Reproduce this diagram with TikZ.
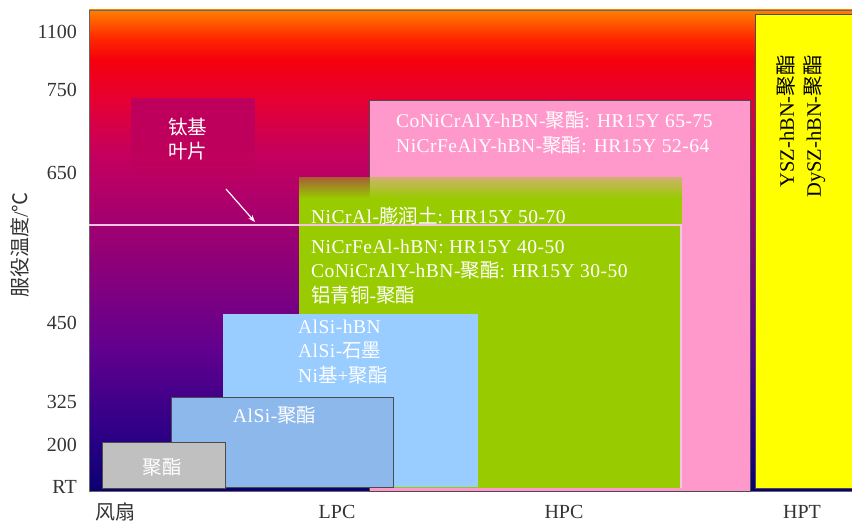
\documentclass[tikz,border=0pt]{standalone}
\usepackage{fontspec}
\setmainfont{Liberation Serif}
\newfontfamily\cjk{Noto Sans CJK SC}
\newfontfamily\spaced{Liberation Serif}[LetterSpace=2.5]
\newcommand{\zh}[1]{{\cjk #1}}
\usetikzlibrary{arrows.meta, fadings}
\definecolor{pinkzone}{HTML}{FF99CC}
\definecolor{greenzone}{HTML}{99CC00}
\definecolor{skyzone}{HTML}{99CCFF}
\definecolor{bluezone}{HTML}{8DB8EC}
\definecolor{grayzone}{HTML}{C0C0C0}
\definecolor{yellowzone}{HTML}{FFFF00}
\definecolor{tizone}{HTML}{BE005C}
\definecolor{tiline}{HTML}{F4C4E0}
\pgfdeclareverticalshading{heatbg}{100bp}{
    rgb(0bp)=(0.04,0,0.44); rgb(25bp)=(0.04,0,0.44);
    rgb(30.3bp)=(0.16,0,0.52); rgb(39.7bp)=(0.38,0,0.56);
    rgb(49bp)=(0.56,0,0.47); rgb(55.2bp)=(0.68,0,0.42);
    rgb(60.4bp)=(0.78,0,0.36); rgb(65.6bp)=(0.9,0,0.2);
    rgb(69.8bp)=(0.96,0,0.05); rgb(72bp)=(1,0.15,0);
    rgb(75bp)=(1,0.5,0); rgb(100bp)=(1,0.5,0)}
\tikzfading[name=fadein, top color=transparent!55, bottom color=transparent!0]
\tikzfading[name=fadeout, top color=transparent!0, bottom color=transparent!100]
\tikzset{
    zone/.style={draw=black!70, line width=0.6pt},
    tick/.style={anchor=east, inner sep=0pt, text=black!80, font=\fontsize{20}{24}\selectfont},
    cat/.style={inner sep=0pt, text=black!80, font=\fontsize{20}{24}\selectfont},
    item/.style={anchor=west, align=left, inner sep=0pt, text=white, font=\spaced\fontsize{19.5}{24.5}\selectfont}
}

\begin{document}
\begin{tikzpicture}[x=1pt, y=-1pt]
    \useasboundingbox (0,0) rectangle (852,524);
    % Temperature background
    \shade[shading=heatbg, draw=black!60, line width=0.6pt] (89,10) rectangle (852,491);
    % Ti blade zone
    \fill[tizone] (131,98) rectangle (255,145);
    \fill[tizone, path fading=fadeout] (131,145) rectangle (255,186);
    % HPC zone
    \filldraw[pinkzone, zone] (369,100) rectangle (750,491);
    % HPT zone
    \filldraw[yellowzone, zone] (755,14) rectangle (852,488);
    % Compressor zone
    \fill[greenzone, path fading=fadein] (299,177) rectangle (682,198);
    \fill[greenzone] (299,198) rectangle (682,488);
    \draw[tiline, line width=1.4pt] (89,225) -- (681,225) -- (681,488);
    % Low temperature zones
    \fill[skyzone] (223,314) rectangle (478,487);
    \filldraw[bluezone, zone] (171,397) rectangle (393,487);
    \filldraw[grayzone, zone] (102,442) rectangle (225,488);
    % Axis labels
    \node[tick] (t1100) at (77,32) {1100};
    \node[tick] (t750) at (77,90) {750};
    \node[tick] (t650) at (77,173) {650};
    \node[tick] (t450) at (77,323) {450};
    \node[tick] (t325) at (77,402) {325};
    \node[tick] (t200) at (77,445) {200};
    \node[tick] (trt) at (77,487) {RT};
    \node[cat, rotate=90] (ylabel) at (20,245) {\zh{服役温度}/\zh{℃}};
    \node[cat] (fan) at (115,512) {\zh{风扇}};
    \node[cat] (lpc) at (337,512) {LPC};
    \node[cat] (hpc) at (564,512) {HPC};
    \node[cat] (hpt) at (802,512) {HPT};
    % Coatings
    \node[item] (ticoat) at (168,139) {\zh{钛基}\\\zh{叶片}};
    \node[item] (hpccoat) at (396,133) {CoNiCrAlY-hBN-\zh{聚酯}: HR15Y 65-75\\NiCrFeAlY-hBN-\zh{聚酯}: HR15Y 52-64};
    \node[item] (nicral) at (311,216) {NiCrAl-\zh{膨润土}: HR15Y 50-70};
    \node[item] (midcoat) at (311,272) {NiCrFeAl-hBN: HR15Y 40-50\\CoNiCrAlY-hBN-\zh{聚酯}: HR15Y 30-50\\\zh{铝青铜}-\zh{聚酯}};
    \node[item] (alsicoat) at (298,352) {AlSi-hBN\\AlSi-\zh{石墨}\\Ni\zh{基}+\zh{聚酯}};
    \node[item] (alsipoly) at (233,415) {AlSi-\zh{聚酯}};
    \node[item, anchor=center] (poly) at (162,467) {\zh{聚酯}};
    \node[item, rotate=90, anchor=east, align=right, text=black, font=\fontsize{20.5}{27}\selectfont] (hptcoat) at (801,55) {YSZ-hBN-\zh{聚酯}\\DySZ-hBN-\zh{聚酯}};
    % Arrow to Ti limit
    \coordinate (titail) at (226,189);
    \coordinate (titip) at (255,222);
    \draw[-{Stealth[length=7pt]}, white, line width=1.2pt] (titail) -- (titip);
\end{tikzpicture}
\end{document}
